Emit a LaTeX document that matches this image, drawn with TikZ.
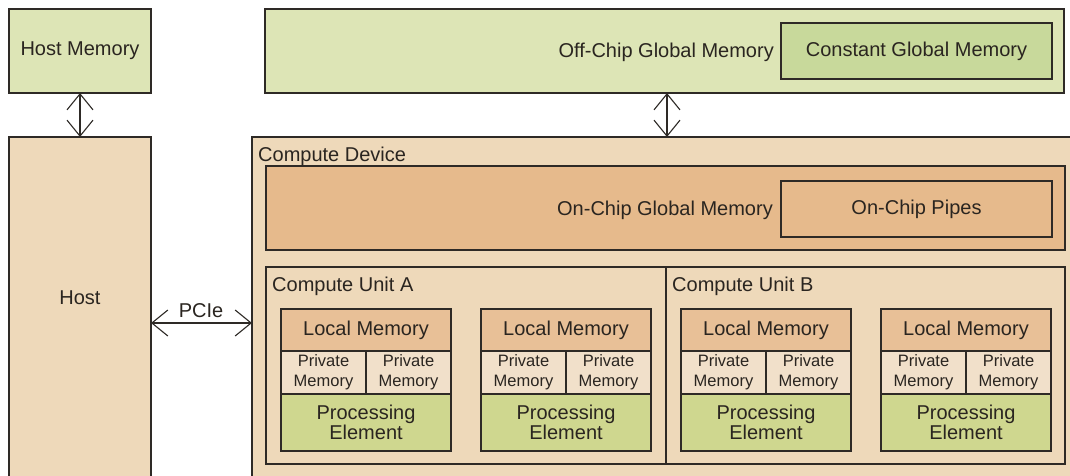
\documentclass[tikz,border=0pt]{standalone}
\usepackage{fontspec}
\setmainfont{Liberation Sans}
\usetikzlibrary{arrows.meta}
\definecolor{memgreen}{HTML}{DDE5B6}
\definecolor{constgreen}{HTML}{C8D99B}
\definecolor{pegreen}{HTML}{CFD78F}
\definecolor{tanfill}{HTML}{EED9BA}
\definecolor{peach}{HTML}{E6BA8C}
\definecolor{localpeach}{HTML}{E8C097}
\definecolor{privcol}{HTML}{F1E0CA}
\definecolor{edgecol}{HTML}{2E2A26}
\definecolor{txtcol}{HTML}{2A2520}
\begin{document}
\begin{tikzpicture}[x=1pt,y=-1pt,
  box/.style={draw=edgecol, line width=1.3pt, inner sep=0pt, outer sep=0pt,
    text=txtcol, font=\fontsize{20}{20}\selectfont, align=center},
  lbl/.style={inner sep=0pt, text=txtcol, font=\fontsize{20}{20}\selectfont},
  smalltxt/.style={font=\fontsize{16.5}{20}\selectfont},
  dblarrow/.style={draw=edgecol, line width=1.1pt,
    {Straight Barb[length=16pt,width=26pt]}-{Straight Barb[length=16pt,width=26pt]}}
]
\fill[white] (0,0) rectangle (1070,476);
\useasboundingbox (0,0) rectangle (1070,476);
\clip (0,0) rectangle (1070,476);

% Host side
\node[box, fill=memgreen, minimum width=142pt, minimum height=84pt] (hostmem) at (80,51) {Host Memory};
\node[box, fill=tanfill, minimum width=142pt, minimum height=372pt] (host) at (80,323) {};
\node[lbl] (hostlbl) at (80,298) {Host};

% Off-chip global memory
\node[box, fill=memgreen, minimum width=799pt, minimum height=84pt] (offchip) at (664.5,51) {};
\node[lbl, anchor=east] (offlbl) at (774,52) {Off-Chip Global Memory};
\node[box, fill=constgreen, minimum width=271pt, minimum height=56pt] (constmem) at (916.5,51) {Constant Global Memory};

% Compute device
\node[box, fill=tanfill, minimum width=838pt, minimum height=372pt] (device) at (671,323) {};
\node[lbl, anchor=west] (devlbl) at (258,156) {Compute Device};

\node[box, fill=peach, minimum width=799pt, minimum height=84pt] (onchip) at (665.5,208) {};
\node[lbl, anchor=east] (onlbl) at (773,210) {On-Chip Global Memory};
\node[box, fill=peach, minimum width=271pt, minimum height=56pt] (pipes) at (916.5,209) {On-Chip Pipes};

\node[box, fill=tanfill, minimum width=400pt, minimum height=197pt] (cua) at (466,365.5) {};
\node[lbl, anchor=west] (cualbl) at (272,286) {Compute Unit A};
\node[box, fill=tanfill, minimum width=399pt, minimum height=197pt] (cub) at (865.5,365.5) {};
\node[lbl, anchor=west] (cublbl) at (672,286) {Compute Unit B};

\foreach \x [count=\i] in {281,481,681,881} {
  \node[box, fill=localpeach, minimum width=170pt, minimum height=42pt] (lm\i) at (\x+85,330) {Local Memory};
  \node[box, smalltxt, fill=privcol, minimum width=85pt, minimum height=43pt] (pml\i) at (\x+42.5,372.5) {Private\\Memory};
  \node[box, smalltxt, fill=privcol, minimum width=85pt, minimum height=43pt] (pmr\i) at (\x+127.5,372.5) {Private\\Memory};
  \node[box, fill=pegreen, minimum width=170pt, minimum height=57pt] (pe\i) at (\x+85,422.5) {Processing\\Element};
}

% Connectors
\draw[dblarrow] (hostmem.south) -- (host.north);
\draw[dblarrow] ([xshift=2.5pt]offchip.south) -- ([xshift=2.5pt]offchip.south |- device.north);
\draw[dblarrow] (host.east) -- (device.west);
\node[lbl] (pcie) at (201,311) {PCIe};
\end{tikzpicture}
\end{document}
